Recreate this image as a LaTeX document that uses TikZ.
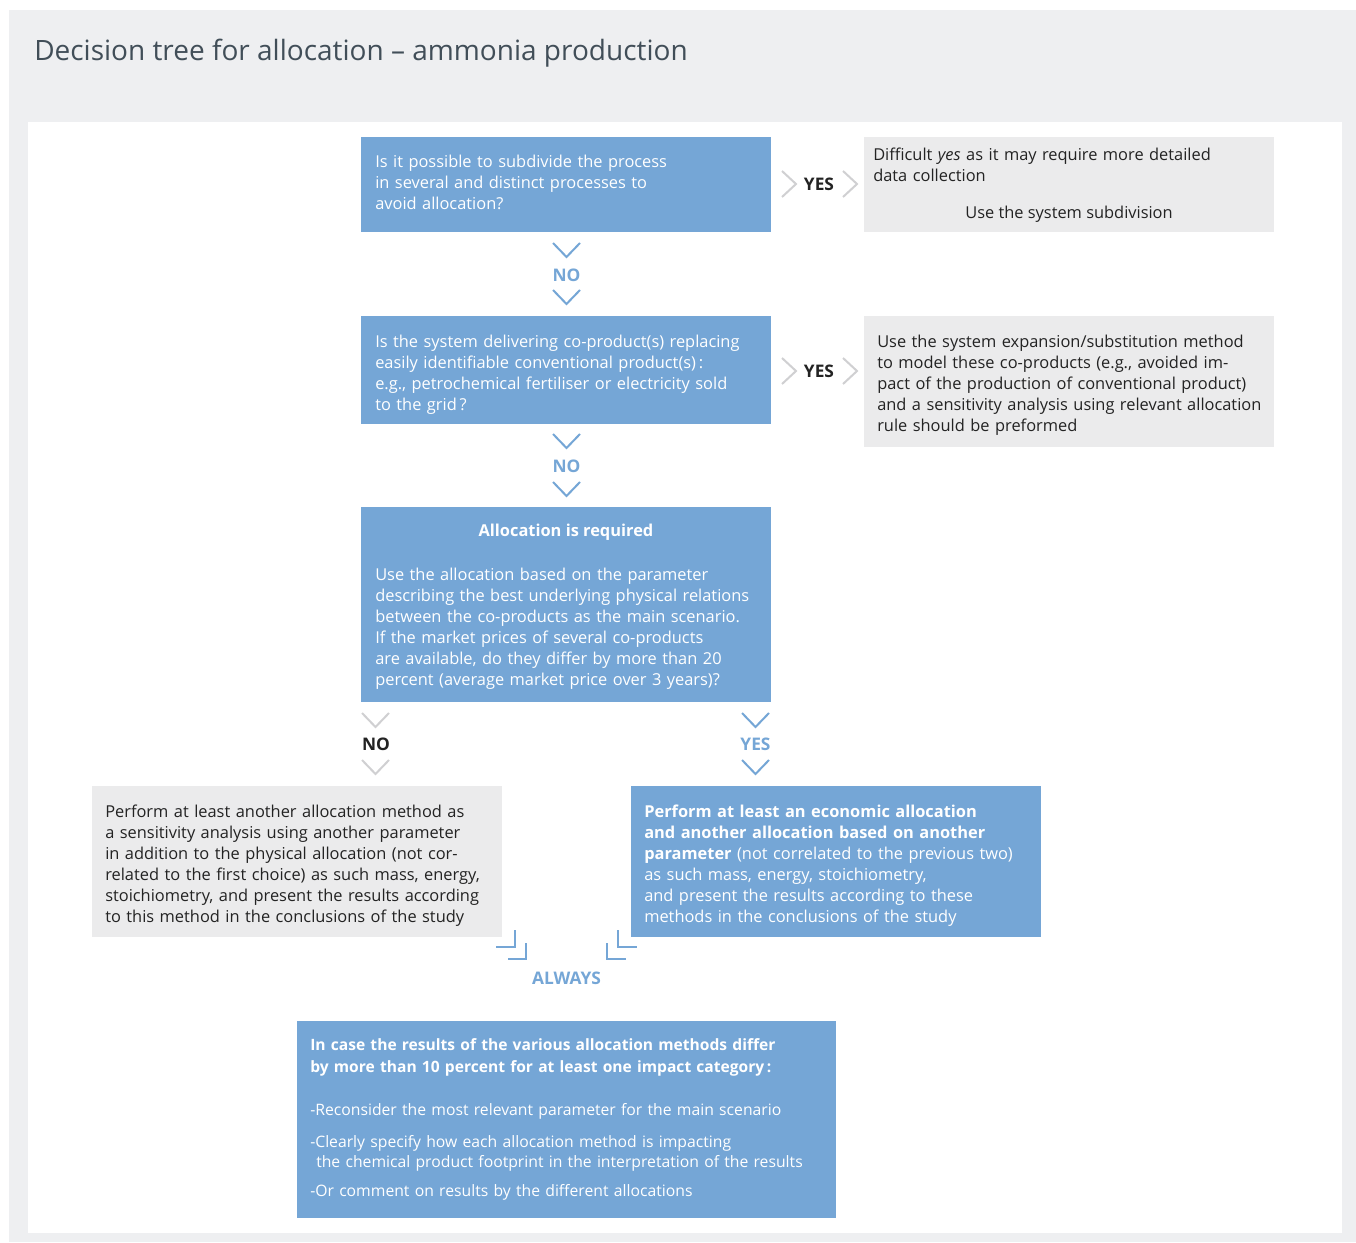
\documentclass[tikz,border=0pt]{standalone}
\usepackage{fontspec}
\setmainfont{Open Sans}
\usetikzlibrary{fit}
\definecolor{boxblue}{RGB}{117,166,214}
\definecolor{boxgrey}{RGB}{235,235,236}
\definecolor{outerbg}{RGB}{238,239,241}
\definecolor{chevgrey}{RGB}{208,208,210}
\definecolor{titlecol}{RGB}{65,78,88}
\definecolor{darktxt}{RGB}{35,35,35}
\newcommand\mainsz{\fontsize{12.3}{15.75}\selectfont}
\newcommand\lastsz{\fontsize{11.8}{15.75}\selectfont}
\newcommand\lblsz{\fontsize{13}{15.75}\selectfont}
\tikzset{
  bluebox/.style={fill=boxblue, draw=none, inner sep=0pt},
  greybox/.style={fill=boxgrey, draw=none, inner sep=0pt},
  wtxt/.style={text=white, font=\mainsz, align=left, inner sep=0pt, anchor=base west, text width=330pt},
  dtxt/.style={text=darktxt, font=\mainsz, align=left, inner sep=0pt, anchor=base west, text width=330pt},
  lblgrey/.style={text=darktxt, font=\lblsz\bfseries, inner sep=0pt, anchor=base},
  lblblue/.style={text=boxblue, font=\lblsz\bfseries, inner sep=0pt, anchor=base},
  chevg/.style={draw=chevgrey, line width=1.5pt},
  chevb/.style={draw=boxblue, line width=1.5pt},
}
\begin{document}
\begin{tikzpicture}[x=0.75pt,y=-0.75pt]
\useasboundingbox (0,0) rectangle (1356,1242);
\fill[outerbg] (9,10) rectangle (1356,1242);
\fill[white] (28,122) rectangle (1342,1233);
\node[text=titlecol, font=\fontsize{21}{24}\selectfont, anchor=base west, inner sep=0pt] (title) at (34,60) {Decision tree for allocation -- ammonia production};

% boxes
\node[bluebox, fit={(361,137)(771,232)}] (b1) {};
\node[greybox, fit={(864,137)(1274,232)}] (r1) {};
\node[bluebox, fit={(361,316)(771,424)}] (b2) {};
\node[greybox, fit={(864,316)(1274,447)}] (r2) {};
\node[bluebox, fit={(361,507)(771,702)}] (b3) {};
\node[greybox, fit={(92,786)(502,937)}] (l4) {};
\node[bluebox, fit={(631,786)(1041,937)}] (r4) {};
\node[bluebox, fit={(297,1021)(836,1218)}] (b5) {};

% texts
\node[wtxt] (t1) at (375,167) {Is it possible to subdivide the process\\in several and distinct processes to\\avoid allocation?};
\node[dtxt] (tr1) at (873,160) {Difficult \emph{yes} as it may require more detailed\\data collection};
\node[text=darktxt, font=\mainsz, inner sep=0pt, anchor=base] (tr1b) at (1069,218) {Use the system subdivision};
\node[wtxt] (t2) at (375,347) {Is the system delivering co-product(s) replacing\\easily identifiable conventional product(s)\,:\\e.g., petrochemical fertiliser or electricity sold\\to the grid\,?};
\node[dtxt] (tr2) at (877,347) {Use the system expansion/substitution method\\to model these co-products (e.g., avoided im-\\pact of the production of conventional product)\\and a sensitivity analysis using relevant allocation\\rule should be preformed};
\node[text=white, font=\mainsz\bfseries, inner sep=0pt, anchor=base] (t3a) at (566,536) {Allocation is required};
\node[wtxt] (t3) at (375,580) {Use the allocation based on the parameter\\describing the best underlying physical relations\\between the co-products as the main scenario.\\If the market prices of several co-products\\are available, do they differ by more than 20\\percent (average market price over 3 years)?};
\node[dtxt] (tl4) at (105,817) {Perform at least another allocation method as\\a sensitivity analysis using another parameter\\in addition to the physical allocation (not cor-\\related to the first choice) as such mass, energy,\\stoichiometry, and present the results according\\to this method in the conclusions of the study};
\node[wtxt] (tr4) at (644,817) {\textbf{Perform at least an economic allocation}\\\textbf{and another allocation based on another}\\\textbf{parameter} (not correlated to the previous two)\\as such mass, energy, stoichiometry,\\and present the results according to these\\methods in the conclusions of the study};
\node[wtxt, font=\fontsize{11.7}{16.5}\selectfont\bfseries, text width=420pt] (t5a) at (310,1050) {In case the results of the various allocation methods differ\\by more than 10 percent for at least one impact category\,:};
\node[wtxt, font=\lastsz, text width=420pt] (t5b) at (310,1115) {-Reconsider the most relevant parameter for the main scenario};
\node[wtxt, text width=420pt, font=\fontsize{11.8}{15}\selectfont] (t5c) at (310,1147) {-Clearly specify how each allocation method is impacting\\\hspace*{4.5pt}the chemical product footprint in the interpretation of the results};
\node[wtxt, font=\lastsz, text width=420pt] (t5d) at (310,1196) {-Or comment on results by the different allocations};

% YES connectors (right)
\node[lblgrey] (yes1) at (819,190) {YES};
\draw[chevg] (782,171) -- (796,184) -- (782,197);
\draw[chevg] (843,171) -- (857,184) -- (843,197);
\node[lblgrey] (yes2) at (819,377) {YES};
\draw[chevg] (782,358) -- (796,371) -- (782,384);
\draw[chevg] (843,358) -- (857,371) -- (843,384);

% NO connectors (down)
\node[lblblue] (no1) at (566.5,281) {NO};
\draw[chevb] (553,243) -- (566.5,257) -- (580,243);
\draw[chevb] (553,290) -- (566.5,304) -- (580,290);
\node[lblblue] (no2) at (566.5,472) {NO};
\draw[chevb] (553,434) -- (566.5,448) -- (580,434);
\draw[chevb] (553,482) -- (566.5,496) -- (580,482);

% branches from b3
\node[lblgrey] (no3) at (376,750) {NO};
\draw[chevg] (362,713) -- (375.5,727) -- (389,713);
\draw[chevg] (362,760) -- (375.5,774) -- (389,760);
\node[lblblue] (yes3) at (755.5,750) {YES};
\draw[chevb] (742,713) -- (755.5,727) -- (769,713);
\draw[chevb] (742,760) -- (755.5,774) -- (769,760);

% ALWAYS merge marks
\draw[chevb] (515,930) -- (515,947) -- (496,947);
\draw[chevb] (526,943) -- (526,959) -- (508,959);
\draw[chevb] (618,930) -- (618,947) -- (637,947);
\draw[chevb] (607,943) -- (607,959) -- (626,959);
\node[lblblue] (always) at (566.5,984) {ALWAYS};
\end{tikzpicture}
\end{document}
